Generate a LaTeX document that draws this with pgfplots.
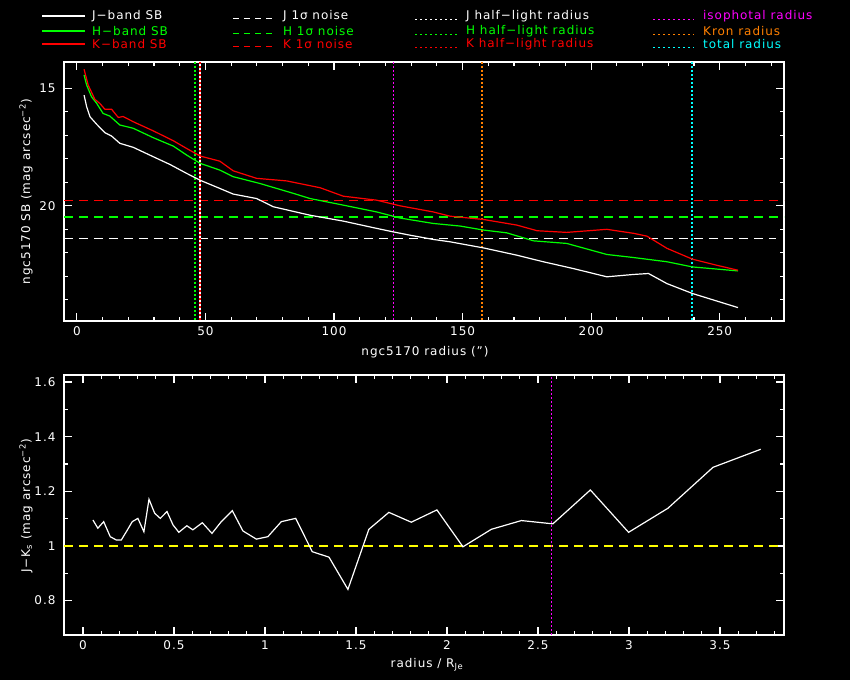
\documentclass[border=0pt]{standalone}
\usepackage{fontspec}
\setmainfont{DejaVu Sans}[LetterSpace=8]
\usepackage{pgfplots}
\pgfplotsset{compat=1.18}
\definecolor{pgreen}{RGB}{0,255,0}
\definecolor{pred}{RGB}{255,0,0}
\definecolor{isocol}{rgb}{1,0,1}
\definecolor{porange}{RGB}{255,128,0}
\definecolor{pcyan}{RGB}{0,255,255}
\definecolor{pyellow}{RGB}{255,255,0}

\pgfplotstableread{
r m
2.8 15.29
3.8 15.78
5.1 16.21
7.7 16.53
10.9 16.89
13.5 17.03
16.7 17.34
21.9 17.51
29.7 17.91
36.2 18.24
42.7 18.62
47.9 18.91
55.6 19.26
60.8 19.50
69.9 19.69
76.4 20.04
90.7 20.40
103.6 20.65
116.6 20.96
123.1 21.11
129.6 21.25
138.6 21.43
145.1 21.53
158.1 21.79
171.1 22.10
181.4 22.38
193.1 22.67
206.1 23.02
216.5 22.92
222.3 22.88
229.5 23.31
239.4 23.73
257.1 24.33
}\Jtab

\pgfplotstableread{
r m
2.8 14.43
3.8 14.86
5.7 15.36
7.7 15.64
10.2 16.07
12.8 16.18
16.7 16.56
21.9 16.70
29.7 17.10
37.5 17.46
42.7 17.84
47.9 18.19
55.6 18.48
60.8 18.76
71.2 19.05
84.2 19.47
90.7 19.69
103.6 19.97
116.6 20.26
125.7 20.52
138.6 20.75
149.0 20.86
158.1 21.03
167.2 21.15
177.6 21.49
190.5 21.60
206.1 22.07
216.5 22.20
229.5 22.38
239.4 22.60
257.1 22.77
}\Htab

\pgfplotstableread{
r m
2.8 14.19
4.4 14.86
7.0 15.47
8.9 15.64
10.9 15.89
13.5 15.89
16.1 16.24
18.0 16.20
21.9 16.42
29.7 16.81
37.5 17.23
42.7 17.56
47.9 17.88
55.6 18.10
60.8 18.51
69.9 18.83
81.6 18.94
94.6 19.23
103.6 19.59
116.6 19.76
125.7 20.00
138.6 20.26
145.1 20.44
158.1 20.58
171.1 20.82
179.0 21.06
190.5 21.13
206.1 21.00
216.5 21.17
221.7 21.29
229.5 21.81
239.4 22.27
248.9 22.53
257.1 22.74
}\Ktab

\pgfplotstableread{
x c
0.055 1.095
0.082 1.065
0.114 1.089
0.150 1.034
0.183 1.022
0.211 1.022
0.242 1.056
0.271 1.089
0.302 1.101
0.335 1.052
0.363 1.171
0.394 1.120
0.425 1.101
0.462 1.126
0.495 1.077
0.527 1.050
0.571 1.074
0.604 1.059
0.656 1.085
0.709 1.046
0.760 1.089
0.821 1.129
0.879 1.055
0.953 1.025
1.016 1.034
1.090 1.089
1.169 1.101
1.260 0.979
1.352 0.959
1.456 0.841
1.571 1.061
1.681 1.123
1.804 1.087
1.945 1.132
2.088 0.997
2.244 1.061
2.409 1.093
2.582 1.081
2.788 1.205
2.998 1.050
3.214 1.138
3.462 1.288
3.724 1.354
}\JKtab

\tikzset{
  vdot/.style={line width=1.5bp, dash pattern=on 2bp off 2bp},
  hdash/.style={line width=1.3bp, dash pattern=on 9bp off 6bp},
  curve/.style={line width=1.2bp},
  ldot/.style={line width=1.5bp, dash pattern=on 2bp off 3bp},
}
\pgfplotsset{
  pg/.style={
    scale only axis,
    axis background/.style={fill=black},
    axis line style={white, line width=1.2bp},
    every tick/.style={white, line width=1.2bp},
    major tick length=8bp,
    minor tick length=4bp,
    tick align=inside,
    xtick pos=both, ytick pos=both,
    xticklabel pos=lower, yticklabel pos=left,
    /pgf/number format/assume math mode=true,
    ticklabel style={text=white, font=\fontsize{12bp}{14bp}\selectfont},
    yticklabel style={xshift=-5bp},
    xticklabel style={yshift=-2bp},
    clip=true,
  },
}

\begin{document}
\begin{tikzpicture}[x=1bp,y=1bp]
\fill[black] (0,0) rectangle (850,680);

% ---------- top panel ----------
\begin{axis}[pg,
  at={(64bp,359bp)}, anchor=south west,
  width=720bp, height=259bp,
  xmin=-5, xmax=275,
  ymin=13.88, ymax=24.9, y dir=reverse,
  xtick distance=50, minor x tick num=4,
  ytick={15,20,25}, minor y tick num=4,
]
\addplot[pred, hdash] coordinates {(-5,19.77) (275,19.77)};
\addplot[pgreen, hdash] coordinates {(-5,20.48) (275,20.48)};
\addplot[white, hdash] coordinates {(-5,21.39) (272,21.39)};

\addplot[pgreen, vdot] coordinates {(45.9,13.88) (45.9,24.9)};
\addplot[pred, line width=1.5bp, dash pattern=on 2bp off 2bp] coordinates {(47.9,13.88) (47.9,24.9)};
\addplot[white, line width=1.5bp, dash pattern=on 2bp off 2bp, dash phase=2bp] coordinates {(47.9,13.88) (47.9,24.9)};
\addplot[draw=isocol, vdot] coordinates {(123.1,13.88) (123.1,24.9)};
\addplot[porange, vdot] coordinates {(157.6,13.88) (157.6,24.9)};
\addplot[pcyan, vdot] coordinates {(239.3,13.88) (239.3,24.9)};

\addplot[white, curve] table[x=r, y=m] {\Jtab};
\addplot[pgreen, curve] table[x=r, y=m] {\Htab};
\addplot[pred, curve] table[x=r, y=m] {\Ktab};
\end{axis}

% ---------- bottom panel ----------
\begin{axis}[pg,
  at={(64bp,45bp)}, anchor=south west,
  width=720bp, height=260bp,
  xmin=-0.104, xmax=3.852,
  ymin=0.674, ymax=1.626,
  xtick distance=0.5, minor x tick num=4,
  ytick={0.8,1,1.2,1.4,1.6}, minor y tick num=1,
]
\addplot[pyellow, hdash] coordinates {(-0.104,1) (3.852,1)};
\addplot[draw=isocol, vdot] coordinates {(2.574,0.674) (2.574,1.626)};
\addplot[white, curve] table[x=x, y=c] {\JKtab};
\end{axis}

% ---------- axis labels ----------
\begin{scope}[every node/.style={text=white, inner sep=0pt, font=\fontsize{12bp}{14bp}\selectfont}]
\node[rotate=90] at (26,488.5) {ngc5170 SB (mag arcsec\textsuperscript{−2})};
\node at (425,328) {ngc5170 radius (\symbol{34})};
\node[rotate=90] at (26,174) {J−K\textsubscript{s} (mag arcsec\textsuperscript{−2})};
\node at (427,15) {radius / R\textsubscript{Je}};

% ---------- legend ----------
\draw[white, line width=1.3bp] (42,664) -- (85,664);
\node[anchor=west] at (92,664) {J−band SB};
\draw[pgreen, line width=1.3bp] (42,649) -- (85,649);
\node[anchor=west, text=pgreen] at (92,649) {H−band SB};
\draw[pred, line width=1.3bp] (42,636) -- (85,636);
\node[anchor=west, text=pred] at (92,636) {K−band SB};

\draw[white, line width=1.3bp, dash pattern=on 6bp off 5bp] (233,661.5) -- (277,661.5);
\node[anchor=west] at (283,664) {J 1σ noise};
\draw[pgreen, line width=1.3bp, dash pattern=on 6bp off 5bp] (233,646.5) -- (277,646.5);
\node[anchor=west, text=pgreen] at (283,649) {H 1σ noise};
\draw[pred, line width=1.3bp, dash pattern=on 6bp off 5bp] (233,633.5) -- (277,633.5);
\node[anchor=west, text=pred] at (283,636) {K 1σ noise};

\draw[white, ldot] (415,660.5) -- (458,660.5);
\node[anchor=west] at (466,664) {J half−light radius};
\draw[pgreen, ldot] (415,645.5) -- (458,645.5);
\node[anchor=west, text=pgreen] at (466,649) {H half−light radius};
\draw[pred, ldot] (415,632.5) -- (458,632.5);
\node[anchor=west, text=pred] at (466,636) {K half−light radius};

\draw[draw=isocol, ldot] (653,660.5) -- (694,660.5);
\node[anchor=west, text=isocol] at (703,664) {isophotal radius};
\draw[porange, ldot] (653,645.5) -- (694,645.5);
\node[anchor=west, text=porange] at (703,649) {Kron radius};
\draw[pcyan, ldot] (653,632.5) -- (694,632.5);
\node[anchor=west, text=pcyan] at (703,636) {total radius};
\end{scope}

\pgfresetboundingbox
\useasboundingbox (0,0) rectangle (850,680);
\end{tikzpicture}
\end{document}
